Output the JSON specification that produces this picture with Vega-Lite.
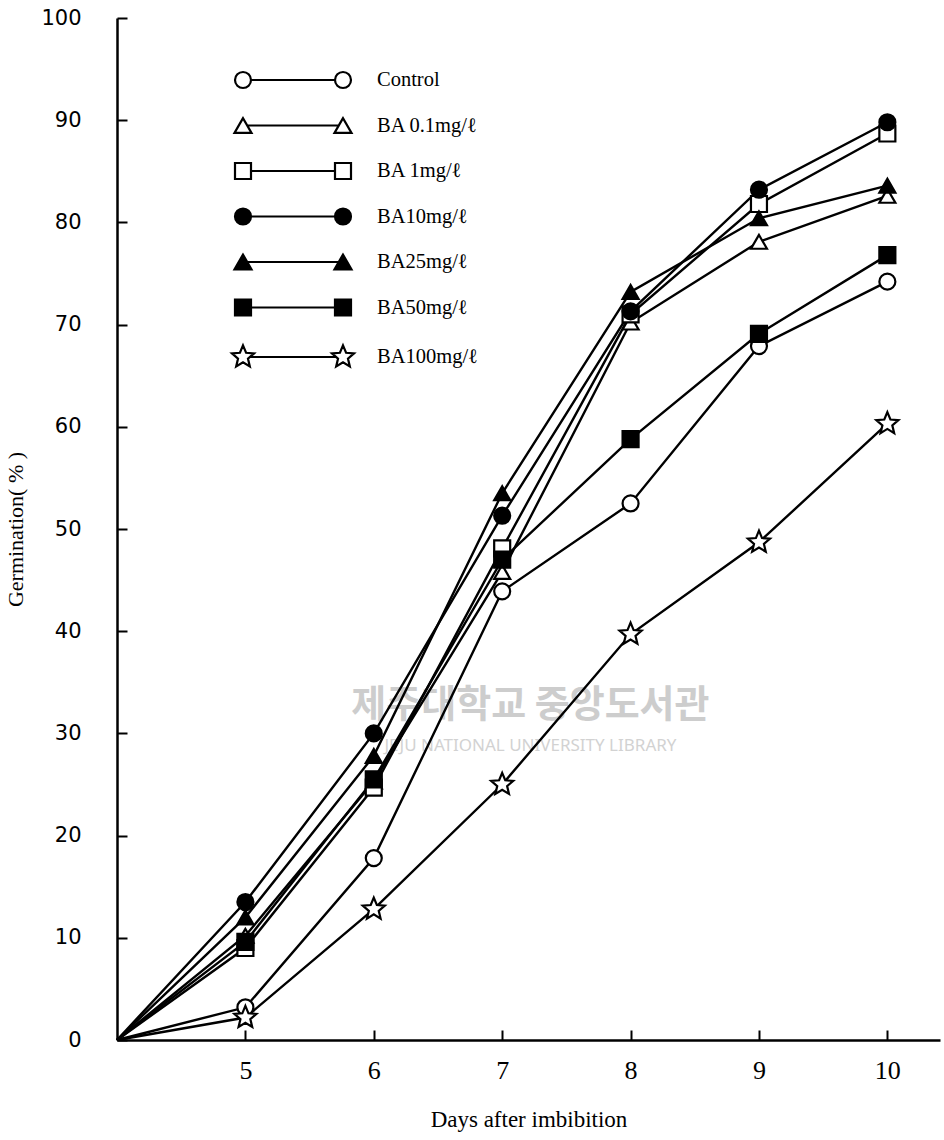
{
  "$schema": "https://vega.github.io/schema/vega-lite/v6.json",
  "width": 823,
  "height": 1022,
  "autosize": {"type": "none"},
  "padding": {"left": 117, "top": 18, "right": 4, "bottom": 100},
  "background": "white",
  "config": {
    "view": {"stroke": null},
    "axis": {"grid": false, "domainColor": "black", "domainWidth": 2.5, "tickColor": "black", "tickWidth": 2, "labelColor": "black", "titleColor": "black", "titleFontWeight": "normal"}
  },
  "datasets": {
    "germ": [
      {"series": "Control", "day": 4, "pct": 0},
      {"series": "Control", "day": 5, "pct": 3.2},
      {"series": "Control", "day": 6, "pct": 17.8},
      {"series": "Control", "day": 7, "pct": 43.9},
      {"series": "Control", "day": 8, "pct": 52.5},
      {"series": "Control", "day": 9, "pct": 67.9},
      {"series": "Control", "day": 10, "pct": 74.2},
      {"series": "BA 0.1mg/ℓ", "day": 4, "pct": 0},
      {"series": "BA 0.1mg/ℓ", "day": 5, "pct": 10.2},
      {"series": "BA 0.1mg/ℓ", "day": 6, "pct": 25.3},
      {"series": "BA 0.1mg/ℓ", "day": 7, "pct": 45.8},
      {"series": "BA 0.1mg/ℓ", "day": 8, "pct": 70.2},
      {"series": "BA 0.1mg/ℓ", "day": 9, "pct": 78.1},
      {"series": "BA 0.1mg/ℓ", "day": 10, "pct": 82.6},
      {"series": "BA 1mg/ℓ", "day": 4, "pct": 0},
      {"series": "BA 1mg/ℓ", "day": 5, "pct": 9.0},
      {"series": "BA 1mg/ℓ", "day": 6, "pct": 24.7},
      {"series": "BA 1mg/ℓ", "day": 7, "pct": 48.1},
      {"series": "BA 1mg/ℓ", "day": 8, "pct": 71.0},
      {"series": "BA 1mg/ℓ", "day": 9, "pct": 81.8},
      {"series": "BA 1mg/ℓ", "day": 10, "pct": 88.7},
      {"series": "BA10mg/ℓ", "day": 4, "pct": 0},
      {"series": "BA10mg/ℓ", "day": 5, "pct": 13.5},
      {"series": "BA10mg/ℓ", "day": 6, "pct": 30.0},
      {"series": "BA10mg/ℓ", "day": 7, "pct": 51.3},
      {"series": "BA10mg/ℓ", "day": 8, "pct": 71.3},
      {"series": "BA10mg/ℓ", "day": 9, "pct": 83.2},
      {"series": "BA10mg/ℓ", "day": 10, "pct": 89.8},
      {"series": "BA25mg/ℓ", "day": 4, "pct": 0},
      {"series": "BA25mg/ℓ", "day": 5, "pct": 12.0},
      {"series": "BA25mg/ℓ", "day": 6, "pct": 27.8},
      {"series": "BA25mg/ℓ", "day": 7, "pct": 53.5},
      {"series": "BA25mg/ℓ", "day": 8, "pct": 73.2},
      {"series": "BA25mg/ℓ", "day": 9, "pct": 80.4},
      {"series": "BA25mg/ℓ", "day": 10, "pct": 83.6},
      {"series": "BA50mg/ℓ", "day": 4, "pct": 0},
      {"series": "BA50mg/ℓ", "day": 5, "pct": 9.6},
      {"series": "BA50mg/ℓ", "day": 6, "pct": 25.5},
      {"series": "BA50mg/ℓ", "day": 7, "pct": 47.0},
      {"series": "BA50mg/ℓ", "day": 8, "pct": 58.8},
      {"series": "BA50mg/ℓ", "day": 9, "pct": 69.1},
      {"series": "BA50mg/ℓ", "day": 10, "pct": 76.8},
      {"series": "BA100mg/ℓ", "day": 4, "pct": 0},
      {"series": "BA100mg/ℓ", "day": 5, "pct": 2.2},
      {"series": "BA100mg/ℓ", "day": 6, "pct": 12.8},
      {"series": "BA100mg/ℓ", "day": 7, "pct": 25.0},
      {"series": "BA100mg/ℓ", "day": 8, "pct": 39.7},
      {"series": "BA100mg/ℓ", "day": 9, "pct": 48.7},
      {"series": "BA100mg/ℓ", "day": 10, "pct": 60.3}
    ]
  },
  "layer": [
    {
      "data": {"values": [{"t": "제주대학교 중앙도서관"}]},
      "mark": {"type": "text", "font": "Noto Sans CJK KR", "fontSize": 38, "fontWeight": "bold", "color": "#cdcdcd", "align": "center", "baseline": "middle"},
      "encoding": {"x": {"datum": 7.22, "type": "quantitative"}, "y": {"datum": 32.7, "type": "quantitative"}, "text": {"field": "t"}}
    },
    {
      "data": {"values": [{"t": "JEJU NATIONAL UNIVERSITY LIBRARY"}]},
      "mark": {"type": "text", "font": "Noto Sans", "fontSize": 17, "color": "#d2d2d2", "align": "center", "baseline": "middle"},
      "encoding": {"x": {"datum": 7.22, "type": "quantitative"}, "y": {"datum": 28.8, "type": "quantitative"}, "text": {"field": "t"}}
    },
    {
      "data": {"name": "germ"},
      "mark": {"type": "line", "stroke": "black", "strokeWidth": 2.4},
      "encoding": {
        "x": {"field": "day", "type": "quantitative", "scale": {"domain": [4, 10.41], "nice": false, "zero": false},
          "axis": {"values": [5, 6, 7, 8, 9, 10], "format": "d", "tickSize": -10, "labelFont": "Liberation Serif", "labelFontSize": 26, "labelPadding": 27, "title": "Days after imbibition", "titleFont": "Liberation Serif", "titleFontSize": 23, "titlePadding": 25}},
        "y": {"field": "pct", "type": "quantitative", "scale": {"domain": [0, 100], "nice": false},
          "axis": {"values": [0, 10, 20, 30, 40, 50, 60, 70, 80, 90, 100], "tickSize": -10, "labelFont": "DejaVu Sans", "labelFontSize": 21, "labelPadding": 46, "title": "Germination( % )", "titleFont": "Liberation Serif", "titleFontSize": 22, "titlePadding": 13}},
        "detail": {"field": "series"}
      }
    },
    {
      "data": {"name": "germ"},
      "transform": [{"filter": "datum.day > 4"}],
      "mark": {"type": "point", "filled": true, "size": 256, "stroke": "black", "strokeWidth": 2.2, "opacity": 1},
      "encoding": {
        "x": {"field": "day", "type": "quantitative"},
        "y": {"field": "pct", "type": "quantitative"},
        "shape": {"field": "series", "type": "nominal", "legend": null,
          "scale": {"domain": ["Control", "BA 0.1mg/ℓ", "BA 1mg/ℓ", "BA10mg/ℓ", "BA25mg/ℓ", "BA50mg/ℓ", "BA100mg/ℓ"],
            "range": ["circle", "triangle-up", "square", "circle", "triangle-up", "square", "M0,-1.45L0.382,-0.526L1.379,-0.448L0.618,0.201L0.852,1.173L0,0.65L-0.852,1.173L-0.618,0.201L-1.379,-0.448L-0.382,-0.526Z"]}},
        "fill": {"field": "series", "type": "nominal", "legend": null,
          "scale": {"domain": ["Control", "BA 0.1mg/ℓ", "BA 1mg/ℓ", "BA10mg/ℓ", "BA25mg/ℓ", "BA50mg/ℓ", "BA100mg/ℓ"],
            "range": ["white", "white", "white", "black", "black", "black", "white"]}}
      }
    },
    {
      "data": {"name": "germ"},
      "transform": [{"filter": "false"}],
      "mark": {"type": "point", "filled": true, "stroke": "black", "strokeWidth": 2.2, "opacity": 1},
      "encoding": {
        "x": {"field": "day", "type": "quantitative"},
        "y": {"field": "pct", "type": "quantitative"},
        "shape": {"field": "series", "type": "nominal",
          "scale": {"domain": ["Control", "BA 0.1mg/ℓ", "BA 1mg/ℓ", "BA10mg/ℓ", "BA25mg/ℓ", "BA50mg/ℓ", "BA100mg/ℓ"],
            "range": [
              "M-6.5,0M6.5,0M-5.8,0A0.8,0.8,0,1,1,-4.2,0A0.8,0.8,0,1,1,-5.8,0ZM-4.2,0L4.2,0M4.2,0A0.8,0.8,0,1,1,5.8,0A0.8,0.8,0,1,1,4.2,0Z",
              "M-6.5,0M6.5,0M-5,-0.735L-5.85,0.735L-4.15,0.735ZM-4.575,0L4.575,0M5,-0.735L4.15,0.735L5.85,0.735Z",
              "M-6.5,0M6.5,0M-5.8,-0.8L-4.2,-0.8L-4.2,0.8L-5.8,0.8ZM-4.2,0L4.2,0M4.2,-0.8L5.8,-0.8L5.8,0.8L4.2,0.8Z",
              "M-6.5,0M6.5,0M-5.8,0A0.8,0.8,0,1,1,-4.2,0A0.8,0.8,0,1,1,-5.8,0ZM-4.2,0L4.2,0M4.2,0A0.8,0.8,0,1,1,5.8,0A0.8,0.8,0,1,1,4.2,0Z",
              "M-6.5,0M6.5,0M-5,-0.735L-5.85,0.735L-4.15,0.735ZM-4.575,0L4.575,0M5,-0.735L4.15,0.735L5.85,0.735Z",
              "M-6.5,0M6.5,0M-5.8,-0.8L-4.2,-0.8L-4.2,0.8L-5.8,0.8ZM-4.2,0L4.2,0M4.2,-0.8L5.8,-0.8L5.8,0.8L4.2,0.8Z",
              "M-6.5,0M6.5,0M-5,-1.16L-4.693,-0.4225L-3.897,-0.3585L-4.5035,0.1615L-4.318,0.9385L-5,0.522L-5.682,0.9385L-5.4965,0.1615L-6.103,-0.3585L-5.307,-0.4225ZM-4.315,0L4.315,0M5,-1.16L5.307,-0.4225L6.103,-0.3585L5.4965,0.1615L5.682,0.9385L5,0.522L4.318,0.9385L4.5035,0.1615L3.897,-0.3585L4.693,-0.4225Z"
            ]},
          "legend": {"orient": "none", "legendX": 164.5, "legendY": 50.5, "title": null, "padding": 0, "labelFont": "Liberation Serif", "labelFontSize": 20.5, "labelColor": "black", "labelLimit": 300, "symbolSize": 400, "symbolStrokeWidth": 2.2, "symbolStrokeColor": "black", "symbolOpacity": 1, "labelOffset": 72.5, "rowPadding": 20.5,
            "encode": {"symbols": {"update": {"stroke": {"value": "black"}, "strokeWidth": {"value": 2.2}, "opacity": {"value": 1}}}}}},
        "fill": {"field": "series", "type": "nominal",
          "scale": {"domain": ["Control", "BA 0.1mg/ℓ", "BA 1mg/ℓ", "BA10mg/ℓ", "BA25mg/ℓ", "BA50mg/ℓ", "BA100mg/ℓ"],
            "range": ["white", "white", "white", "black", "black", "black", "white"]},
          "legend": {"orient": "none", "legendX": 164.5, "legendY": 50.5, "title": null, "padding": 0, "labelFont": "Liberation Serif", "labelFontSize": 20.5, "labelColor": "black", "labelLimit": 300, "symbolSize": 400, "symbolStrokeWidth": 2.2, "symbolStrokeColor": "black", "symbolOpacity": 1, "labelOffset": 72.5, "rowPadding": 20.5,
            "encode": {"symbols": {"update": {"stroke": {"value": "black"}, "strokeWidth": {"value": 2.2}, "opacity": {"value": 1}}}}}}
      }
    }
  ],
  "resolve": {"scale": {"shape": "independent", "fill": "independent"}}
}
